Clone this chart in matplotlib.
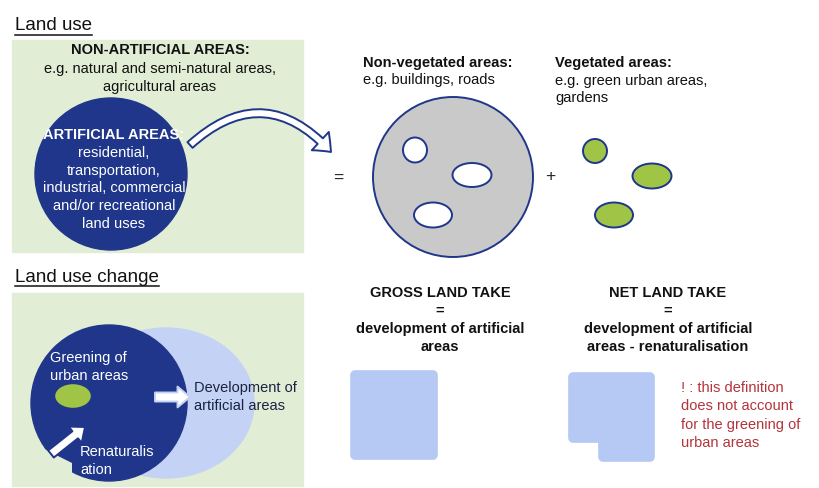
import matplotlib
matplotlib.use("Agg")
import matplotlib.pyplot as plt
from matplotlib.patches import Circle, Ellipse, Rectangle, Polygon, FancyArrowPatch

plt.rcParams["font.family"] = ["Liberation Sans", "DejaVu Sans"]

# colours
NAVY = "#1f368a"
PALE_GREEN = "#e2edd6"
LIGHT_BLUE = "#c4d2f6"
SQUARE_BLUE = "#b6c9f5"
GREY = "#c9c9c9"
LEAF = "#a0c446"
RED_TEXT = "#b3343c"
FS = 10.5

# texts
headings = ["Land use", "Land use change"]
non_artificial = ["NON-ARTIFICIAL AREAS:", "e.g. natural and semi-natural areas,", "agricultural areas"]
artificial = ["ARTIFICIAL AREAS:", "residential,", "transportation,", "industrial, commercial",
              "and/or recreational", "land uses"]
non_veg = ["Non-vegetated areas:", "e.g. buildings, roads"]
veg = ["Vegetated areas:", "e.g. green urban areas,", "gardens"]
gross = ["GROSS LAND TAKE", "=", "development of artificial", "areas"]
net = ["NET LAND TAKE", "=", "development of artificial", "areas - renaturalisation"]
warning = ["! : this definition", "does not account", "for the greening of", "urban areas"]

# holes in the grey circle and green patches (centre x, centre y, width, height)
holes = [(415, 150, 24, 25), (472, 175, 39, 24), (433, 215, 38, 25)]
patches_green = [(595, 151, 24, 24), (652, 176, 39, 25), (614, 215, 38, 25)]

fig = plt.figure(figsize=(8.19, 4.88), dpi=100)
ax = fig.add_axes([0, 0, 1, 1])
ax.set_xlim(0, 819)
ax.set_ylim(488, 0)
ax.axis("off")


def lines(x, y0, texts, pitch=17.8, bold_all=False, bold_first=False, **kw):
    for i, t in enumerate(texts):
        bold = bold_all or (bold_first and i == 0)
        ax.text(x, y0 + i * pitch, t, fontsize=FS, va="center",
                fontweight="bold" if bold else "normal", **kw)


def hollow_arrow(start, end, edge, rad=0.0, head_length=9, head_width=15, tail_width=6.5):
    style = f"simple,head_length={head_length},head_width={head_width},tail_width={tail_width}"
    ax.add_patch(FancyArrowPatch(start, end, connectionstyle=f"arc3,rad={rad}", arrowstyle=style,
                                 shrinkA=0, shrinkB=0, facecolor="white", edgecolor=edge,
                                 lw=1.4, zorder=4))


# ---- top panel: land use ----
ax.add_patch(Rectangle((12, 40), 291, 212, color=PALE_GREEN, zorder=0))
ax.add_patch(Circle((111, 174), 76, color=NAVY, zorder=1))
lines(160, 50, non_artificial, pitch=18.5, bold_first=True, ha="center", color="#111111")
lines(114, 135, artificial, bold_first=True, ha="center", color="white", zorder=3)

hollow_arrow((190, 145), (331, 152), NAVY, rad=-0.5, head_length=11, head_width=18, tail_width=5.5)

ax.text(338, 178, "=", fontsize=12.5, ha="center", va="center", color="#222222")
ax.text(550, 177, "+", fontsize=12.5, ha="center", va="center", color="#222222")

ax.add_patch(Circle((453, 177), 80, facecolor=GREY, edgecolor=NAVY, lw=1.4, zorder=1))
for cx, cy, w, h in holes:
    ax.add_patch(Ellipse((cx, cy), w, h, facecolor="white", edgecolor=NAVY, lw=1.4, zorder=2))
for cx, cy, w, h in patches_green:
    ax.add_patch(Ellipse((cx, cy), w, h, facecolor=LEAF, edgecolor=NAVY, lw=1.4, zorder=2))

lines(363, 63, non_veg, pitch=17, bold_first=True, ha="left", color="#111111")
lines(555, 63, veg, pitch=17.5, bold_first=True, ha="left", color="#111111")

# ---- bottom panel: land use change ----
ax.add_patch(Rectangle((12, 293), 291, 193, color=PALE_GREEN, zorder=0))
ax.add_patch(Ellipse((166, 403), 176, 150, color=LIGHT_BLUE, zorder=1))
ax.add_patch(Circle((109, 403), 78, color=NAVY, zorder=2))
# notch cut out of the built-up circle
ax.add_patch(Polygon([(20, 437), (72, 463), (72, 486), (20, 486)], closed=True,
                     color=PALE_GREEN, lw=0, zorder=2.5))
ax.add_patch(Ellipse((73, 396), 37, 25, facecolor=LEAF, edgecolor=NAVY, lw=1, zorder=3))

hollow_arrow((51, 454), (85, 427), NAVY, head_length=9, head_width=15, tail_width=6.5)
hollow_arrow((155, 397), (190, 397), LIGHT_BLUE, head_length=9, head_width=15, tail_width=6.5)

lines(50, 358, ["Greening of", "urban areas"], pitch=17.5, ha="left", color="white", zorder=5)
lines(80, 452, ["Renaturalis", "ation"], pitch=17.5, ha="left", color="white", zorder=5)
lines(194, 388, ["Development of", "artificial areas"], pitch=18, ha="left", color="#1a2340", zorder=5)

# gross and net land take
lines(440, 293, gross, pitch=18, bold_all=True, ha="center", color="#111111")
lines(668, 293, net, pitch=18, bold_all=True, ha="center", color="#111111")

inset = 5
ax.add_patch(Polygon([(350 + inset, 370 + inset), (438 - inset, 370 + inset),
                      (438 - inset, 460 - inset), (350 + inset, 460 - inset)], closed=True,
                     facecolor=SQUARE_BLUE, edgecolor=SQUARE_BLUE, lw=7, joinstyle="round", zorder=1))
ax.add_patch(Polygon([(568 + inset, 372 + inset), (655 - inset, 372 + inset),
                      (655 - inset, 462 - inset), (598 + inset, 462 - inset),
                      (598 + inset, 433 + inset), (568 + inset, 433 + inset)], closed=True,
                     facecolor=SQUARE_BLUE, edgecolor=SQUARE_BLUE, lw=7, joinstyle="round", zorder=1))

lines(681, 388, warning, pitch=18.3, ha="left", color=RED_TEXT)

# underlined headings
head_pos = [(15, 26), (15, 277)]
fig.canvas.draw()
renderer = fig.canvas.get_renderer()
inv = ax.transData.inverted()
for (x, y), t in zip(head_pos, headings):
    txt = ax.text(x, y, t, fontsize=13.5, ha="left", va="center", color="#111111")
    bb = txt.get_window_extent(renderer)
    (x0, _), (x1, _) = inv.transform([(bb.x0, bb.y0), (bb.x1, bb.y0)])
    ax.plot([x0, x1], [y + 9, y + 9], color="#111111", lw=1.1)

fig.savefig("out.png", dpi=100)
